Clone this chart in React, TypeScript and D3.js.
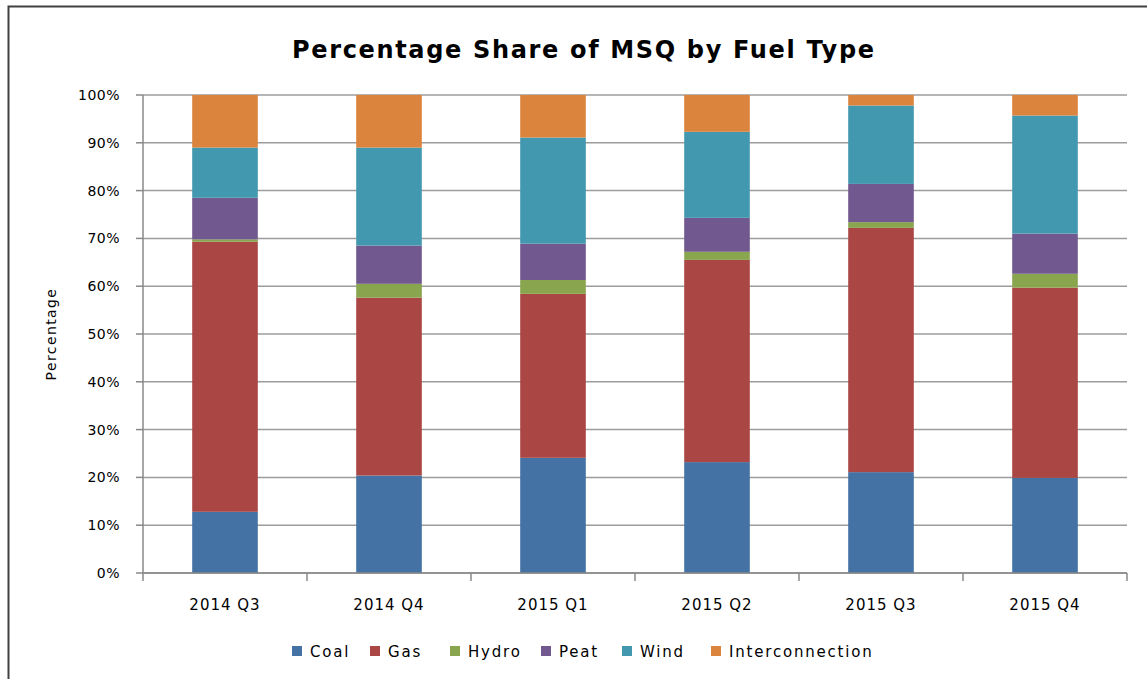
import React from "react";
import * as d3 from "d3";

// values (percent share of MSQ)
const quarters = ["2014 Q3", "2014 Q4", "2015 Q1", "2015 Q2", "2015 Q3", "2015 Q4"];
const fuels = ["Coal", "Gas", "Hydro", "Peat", "Wind", "Interconnection"];
const coal = [12.8, 20.4, 24.1, 23.2, 21.1, 19.9];
const gas = [56.5, 37.2, 34.3, 42.3, 51.1, 39.8];
const hydro = [0.5, 2.9, 2.9, 1.7, 1.2, 2.9];
const peat = [8.7, 8.0, 7.6, 7.1, 8.0, 8.4];
const wind = [10.5, 20.5, 22.2, 18.0, 16.4, 24.7];
const interconnection = [11.0, 11.0, 8.9, 7.7, 2.2, 4.3];
const yTicks = [0, 10, 20, 30, 40, 50, 60, 70, 80, 90, 100];

const colors = ["#4472A4", "#AA4643", "#89A54E", "#71588F", "#4198AF", "#DB843D"];

const W = 1147;
const H = 679;
const left = 143;
const right = 1127;
const top = 95;
const bottom = 573;
const font = "'DejaVu Sans', Verdana, sans-serif";

const App = () => {
  const rows = quarters.map((q, i) => ({
    quarter: q,
    Coal: coal[i],
    Gas: gas[i],
    Hydro: hydro[i],
    Peat: peat[i],
    Wind: wind[i],
    Interconnection: interconnection[i]
  }));
  const series = d3.stack<any>().keys(fuels)(rows);

  const x = d3
    .scaleBand()
    .domain(quarters)
    .range([left, right])
    .paddingInner(0.6)
    .paddingOuter(0.3);
  const y = d3.scaleLinear().domain([0, 100]).range([bottom, top]);
  const step = x.step();

  // legend layout
  const legendX = [292, 370, 450, 541, 622, 711];

  return (
    <svg
      width={W}
      height={H}
      style={{ position: "absolute", left: 0, top: 0, background: "#fff" }}
    >
      <rect x={8.5} y={6.5} width={1300} height={800} fill="#fff" stroke="#404040" strokeWidth={2} />

      <text
        x={583}
        y={58}
        textAnchor="middle"
        fontFamily={font}
        fontWeight="bold"
        fontSize={24}
        textLength={582}
        lengthAdjust="spacing"
        fill="#000"
      >
        Percentage Share of MSQ by Fuel Type
      </text>

      {/* grid */}
      {yTicks.map(t => (
        <line
          key={"g" + t}
          x1={left}
          x2={right}
          y1={y(t)}
          y2={y(t)}
          stroke="#9c9c9c"
          strokeWidth={1.5}
        />
      ))}

      {/* bars */}
      {series.map((s, si) => (
        <g key={s.key} fill={colors[si]}>
          {s.map((d, i) => (
            <rect
              key={i}
              x={x(quarters[i])}
              y={y(d[1])}
              width={x.bandwidth()}
              height={y(d[0]) - y(d[1])}
            />
          ))}
        </g>
      ))}

      {/* y axis */}
      <line x1={left} x2={left} y1={top} y2={bottom} stroke="#888" strokeWidth={1.5} />
      {yTicks.map(t => (
        <g key={"t" + t}>
          <line x1={left - 7} x2={left} y1={y(t)} y2={y(t)} stroke="#888" strokeWidth={1.5} />
          <text
            x={120}
            y={y(t) + 5}
            textAnchor="end"
            fontFamily={font}
            fontSize={14}
            letterSpacing={0.5}
            fill="#000"
          >
            {t + "%"}
          </text>
        </g>
      ))}
      <text
        transform={`translate(56,${(top + bottom) / 2}) rotate(-90)`}
        textAnchor="middle"
        fontFamily={font}
        fontSize={14}
        letterSpacing={1.4}
        fill="#000"
      >
        Percentage
      </text>

      {/* x axis */}
      <line x1={left} x2={right} y1={bottom} y2={bottom} stroke="#888" strokeWidth={1.5} />
      {d3.range(quarters.length + 1).map(i => (
        <line
          key={"xt" + i}
          x1={left + i * step}
          x2={left + i * step}
          y1={bottom}
          y2={bottom + 8}
          stroke="#888"
          strokeWidth={1.5}
        />
      ))}
      {quarters.map(q => (
        <text
          key={q}
          x={(x(q) as number) + x.bandwidth() / 2}
          y={610}
          textAnchor="middle"
          fontFamily={font}
          fontSize={15}
          letterSpacing={1}
          fill="#000"
        >
          {q}
        </text>
      ))}

      {/* legend */}
      {fuels.map((f, i) => (
        <g key={f}>
          <rect x={legendX[i]} y={646} width={10} height={10} fill={colors[i]} />
          <text
            x={legendX[i] + 18}
            y={657}
            fontFamily={font}
            fontSize={15}
            letterSpacing={1.8}
            fill="#000"
          >
            {f}
          </text>
        </g>
      ))}
    </svg>
  );
};

export default App;
